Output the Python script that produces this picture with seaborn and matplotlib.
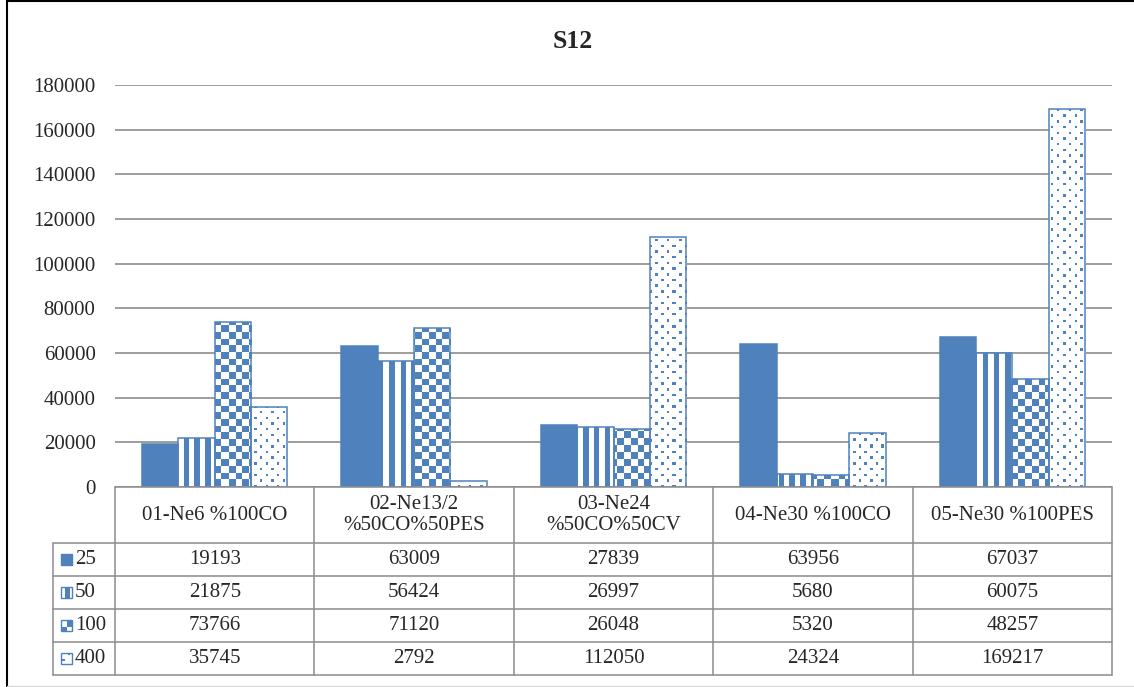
import numpy as np
import pandas as pd
import seaborn as sns
import matplotlib.pyplot as plt
from matplotlib.colors import to_rgb
from matplotlib.patches import Rectangle

categorias = [
    "01-Ne6 %100CO",
    "02-Ne13/2\n%50CO%50PES",
    "03-Ne24\n%50CO%50CV",
    "04-Ne30 %100CO",
    "05-Ne30 %100PES",
]
series = ["25", "50", "100", "400"]
valores_25 = [19193, 63009, 27839, 63956, 67037]
valores_50 = [21875, 56424, 26997, 5680, 60075]
valores_100 = [73766, 71120, 26048, 5320, 48257]
valores_400 = [35745, 2792, 112050, 24324, 169217]
padroes = ["cheio", "listras", "xadrez", "pontos"]

AZUL = "#4F81BD"
CINZA = "#8C8C8C"
W, H = 1134, 687

sns.set_theme(style="white")
plt.rcParams["font.family"] = ["Liberation Serif", "DejaVu Serif"]

tabela = [valores_25, valores_50, valores_100, valores_400]
dados = pd.DataFrame({
    "categoria": np.tile(categorias, len(series)),
    "serie": np.repeat(series, len(categorias)),
    "valor": sum(tabela, []),
})


# ======| texturas estilo Excel |======

def mascara(padrao, X, Y):
    if padrao == "listras":
        return (X % 10.8) < 5.4
    if padrao == "xadrez":
        return ((X // 6.7) + (Y // 6.7)) % 2 == 0
    if padrao == "pontos":
        linha = Y // 5.7
        return ((Y % 5.7) < 2.5) & (((X + (linha % 2) * 5.65) % 11.3) < 2.5)
    return np.ones_like(X, dtype=bool)


def textura(padrao, x0, x1, y0, y1):
    xs = np.arange(x0, x1) + 0.5
    ys = np.arange(y0, y1) + 0.5
    X, Y = np.meshgrid(xs, ys)
    img = np.ones((len(ys), len(xs), 3))
    img[mascara(padrao, X, Y)] = to_rgb(AZUL)
    return img


fig = plt.figure(figsize=(W / 100, H / 100), dpi=100)
ax = fig.add_axes([115 / W, 1 - 487 / H, (1112 - 115) / W, (487 - 85) / H])

sns.barplot(
    data=dados,
    x="categoria",
    y="valor",
    hue="serie",
    hue_order=series,
    palette=[AZUL] * len(series),
    saturation=1,
    width=0.73,
    errorbar=None,
    legend=False,
    ax=ax,
)

ax.set_xlim(-0.5, 4.5)
ax.set_ylim(0, 180000)
ax.set_yticks(np.arange(0, 180001, 20000))
ax.set_xticks([])
ax.set_xlabel("")
ax.set_ylabel("")
sns.despine(ax=ax, left=True, bottom=True)
ax.grid(axis="y", color=CINZA, lw=1.2)
ax.set_axisbelow(True)
ax.tick_params(axis="y", length=0, pad=14, labelsize=15)

inv = ax.transData.inverted()
for container, padrao in zip(ax.containers, padroes):
    for barra in container:
        barra.set_zorder(2)
        barra.set_edgecolor(AZUL)
        barra.set_linewidth(1.1)
        if padrao == "cheio":
            continue
        barra.set_facecolor("none")
        bb = barra.get_window_extent()
        x0, x1 = int(np.floor(bb.x0)), int(np.ceil(bb.x1))
        y0, y1 = int(np.floor(bb.y0)), int(np.ceil(bb.y1))
        (dx0, dy0), (dx1, dy1) = inv.transform([(x0, y0), (x1, y1)])
        im = ax.imshow(
            textura(padrao, x0, x1, y0, y1),
            extent=(dx0, dx1, dy0, dy1),
            origin="lower",
            interpolation="nearest",
            aspect="auto",
            zorder=1.5,
        )
        im.set_clip_path(barra)
ax.set_xlim(-0.5, 4.5)
ax.set_ylim(0, 180000)

# ======| tabela de dados embaixo |======

bordas = [ax.transData.transform((i - 0.5, 0))[0] for i in range(len(categorias) + 1)]

tab = fig.add_axes([0, 0, 1, 1])
tab.set_xlim(0, W)
tab.set_ylim(H, 0)
tab.axis("off")

topo = 487
linhas_y = [543, 576, 609, 642, 675]
esq = 53

tab.plot([bordas[0], bordas[-1]], [topo, topo], color=CINZA, lw=1.1)
for y in linhas_y:
    tab.plot([esq, bordas[-1]], [y, y], color=CINZA, lw=1.1)
for x in bordas:
    tab.plot([x, x], [topo, linhas_y[-1]], color=CINZA, lw=1.1)
tab.plot([esq, esq], [linhas_y[0], linhas_y[-1]], color=CINZA, lw=1.1)

for i, cat in enumerate(categorias):
    tab.text((bordas[i] + bordas[i + 1]) / 2, 515, cat, ha="center", va="center",
             fontsize=15, linespacing=1.2)

for r, (serie, valores, padrao) in enumerate(zip(series, tabela, padroes)):
    yc = (linhas_y[r] + linhas_y[r + 1]) / 2
    for i, v in enumerate(valores):
        tab.text((bordas[i] + bordas[i + 1]) / 2, yc, str(v), ha="center", va="center",
                 fontsize=15)
    im = tab.imshow(textura(padrao, 61, 72, 0, 11), extent=(61, 72, yc + 5.5, yc - 5.5),
                    interpolation="nearest", aspect="auto", zorder=2)
    tab.add_patch(Rectangle((61, yc - 5.5), 11, 11, fc="none", ec=AZUL, lw=1, zorder=3))
    tab.text(75, yc, serie, ha="left", va="center", fontsize=15)

tab.set_xlim(0, W)
tab.set_ylim(H, 0)

tab.text(573, 41, "S12", ha="center", va="center", fontsize=18.5, fontweight="bold")

# moldura
tab.plot([7, 7], [0, H], color="black", lw=1.5)
tab.plot([7, W], [1, 1], color="black", lw=1.5)
tab.plot([7, W], [686, 686], color="#D9D9D9", lw=1)

fig.savefig("out.png", dpi=100)
